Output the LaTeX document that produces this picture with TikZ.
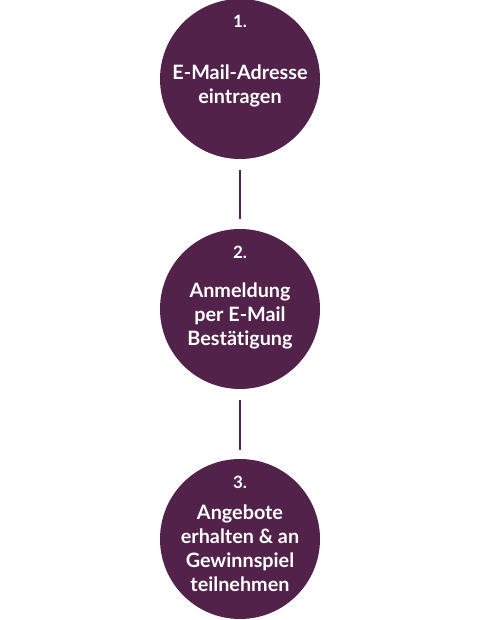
\documentclass[tikz,border=0pt]{standalone}
\usepackage{fontspec}
\setmainfont[Ligatures={NoCommon,NoRequired,NoContextual}]{Lato}
\definecolor{plum}{HTML}{52224B}
\begin{document}
\begin{tikzpicture}[x=1pt,y=-1pt,
  stepcircle/.style={circle,fill=plum,draw=none,minimum size=160pt,inner sep=0pt},
  numtxt/.style={text=white,font=\fontsize{17}{17}\selectfont\bfseries,anchor=base,inner sep=0pt},
  bodytxt/.style={text=white,font=\fontsize{19.8}{24}\selectfont\bfseries,anchor=base,inner sep=0pt},
  link/.style={draw=plum,line width=1.6pt}]
\useasboundingbox (0,0) rectangle (480,620);
\node[stepcircle] (c1) at (240,79) {};
\node[stepcircle] (c2) at (240,309) {};
\node[stepcircle] (c3) at (240,539) {};
\node[numtxt] (n1) at (240,28) {1.};
\node[bodytxt] (t1a) at (240,80) {E-Mail-Adresse};
\node[bodytxt] (t1b) at (240,104) {eintragen};
\node[numtxt] (n2) at (240,258) {2.};
\node[bodytxt] (t2a) at (240,297) {Anmeldung};
\node[bodytxt] (t2b) at (240,321) {per E-Mail};
\node[bodytxt] (t2c) at (240,345) {Bestät\kern0pt igung};
\node[numtxt] (n3) at (240,488) {3.};
\node[bodytxt] (t3a) at (240,519) {Angebote};
\node[bodytxt] (t3b) at (240,543) {erhalten \& an};
\node[bodytxt] (t3c) at (240,567) {Gewinnspiel};
\node[bodytxt] (t3d) at (240,591) {teilnehmen};
\draw[link] ([yshift=-11pt]c1.south) -- ([yshift=10pt]c2.north);
\draw[link] ([yshift=-11pt]c2.south) -- ([yshift=9pt]c3.north);
\end{tikzpicture}
\end{document}
